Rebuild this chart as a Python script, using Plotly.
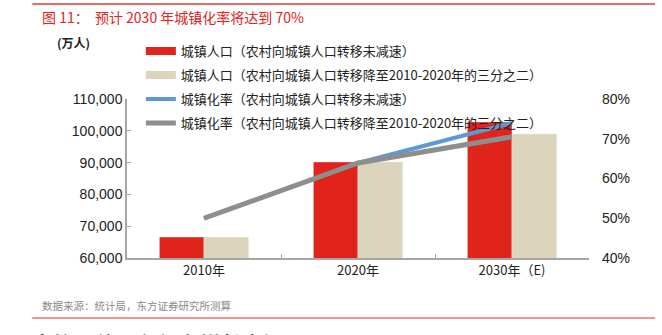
import plotly.graph_objects as go

categories = ["2010年", "2020年", "2030年（E)"]
pop_no_slow = [66600, 90200, 102800]
pop_slow = [66600, 90200, 99000]
rate_no_slow = [0.500, 0.639, 0.740]
rate_slow = [0.500, 0.639, 0.705]

names = [
    "城镇人口（农村向城镇人口转移未减速）",
    "城镇人口（农村向城镇人口转移降至2010-2020年的三分之二）",
    "城镇化率（农村向城镇人口转移未减速）",
    "城镇化率（农村向城镇人口转移降至2010-2020年的三分之二）",
]
RED = "#E0231B"
BEIGE = "#DDD4BC"
BLUE = "#5B9BD5"
GRAY = "#8E8E8E"
CJK = "Noto Sans CJK SC, Liberation Sans, Arial"
NUM = "Liberation Sans, Arial"

fig = go.Figure()
fig.add_bar(x=categories, y=pop_no_slow, marker_color=RED, showlegend=False, name=names[0])
fig.add_bar(x=categories, y=pop_slow, marker_color=BEIGE, showlegend=False, name=names[1])
fig.add_scatter(x=categories, y=rate_no_slow, yaxis="y2", mode="lines",
                line=dict(color=BLUE, width=4), showlegend=False, name=names[2])
fig.add_scatter(x=categories, y=rate_slow, yaxis="y2", mode="lines",
                line=dict(color=GRAY, width=5), showlegend=False, name=names[3])

# legend-only entries (thick line symbols like the reference)
legend_specs = [(names[0], RED, 8, "legend"), (names[1], BEIGE, 8, "legend2"),
                (names[2], BLUE, 4, "legend3"), (names[3], GRAY, 5, "legend4")]
for nm, col, w, lg in legend_specs:
    fig.add_scatter(x=[None], y=[None], mode="lines", line=dict(color=col, width=w),
                    name=nm, legend=lg, showlegend=True)

leg_common = dict(x=0.03, xanchor="left", yanchor="middle", itemwidth=30,
                  bgcolor="rgba(0,0,0,0)", font=dict(family=CJK, size=13, color="#222"))
fig.update_layout(
    width=662, height=335,
    margin=dict(l=127, r=73, t=99, b=77),
    paper_bgcolor="white", plot_bgcolor="white",
    barmode="group", bargap=0.42, bargroupgap=0,
    legend=dict(y=1.302, **leg_common),
    legend2=dict(y=1.151, **leg_common),
    legend3=dict(y=1.0, **leg_common),
    legend4=dict(y=0.849, **leg_common),
    xaxis=dict(showline=True, linecolor="#A6A6A6", linewidth=1.5, ticks="inside",
               tickson="boundaries", ticklen=4, tickcolor="#A6A6A6",
               tickfont=dict(family=CJK, size=13, color="#222"), showgrid=False),
    yaxis=dict(range=[60000, 110000], dtick=10000, tickformat=",", showgrid=False,
               showline=True, linecolor="#A6A6A6", linewidth=1.5, ticks="inside",
               ticklen=4, tickcolor="#A6A6A6", zeroline=False,
               tickfont=dict(family=NUM, size=14, color="#222")),
    yaxis2=dict(range=[0.4, 0.8], dtick=0.1, tickformat=".0%", overlaying="y",
                side="right", showgrid=False, showline=False, zeroline=False,
                ticklabelstandoff=12,
                tickfont=dict(family=NUM, size=14, color="#222")),
)

fig.add_shape(type="line", xref="paper", yref="paper", x0=-0.205, x1=1.143,
              y0=1.597, y1=1.597, line=dict(color="#E0413A", width=1.5))
fig.add_shape(type="line", xref="paper", yref="paper", x0=-0.205, x1=1.143,
              y0=-0.377, y1=-0.377, line=dict(color="#E8736C", width=1.5))

fig.add_annotation(text="图 11：  预计 2030 年城镇化率将达到 70%", xref="paper", yref="paper",
                   x=-0.188, y=1.518, xanchor="left", yanchor="middle", showarrow=False,
                   font=dict(family=CJK, size=14, color="#E0231B"))
fig.add_annotation(text="<b>(万人)</b>", xref="paper", yref="paper",
                   x=-0.156, y=1.358, xanchor="left", yanchor="middle", showarrow=False,
                   font=dict(family=CJK, size=12, color="#222"))
fig.add_annotation(text="数据来源：统计局，东方证券研究所测算", xref="paper", yref="paper",
                   x=-0.188, y=-0.296, xanchor="left", yanchor="middle", showarrow=False,
                   font=dict(family=CJK, size=10.5, color="#8a8a8a"))
fig.add_annotation(text="<b>人均居住面积仍有增长空间</b>", xref="paper", yref="paper",
                   x=-0.21, y=-0.43, xanchor="left", yanchor="top", showarrow=False,
                   font=dict(family=CJK, size=21, color="#333"))

fig.write_html("out.html")
